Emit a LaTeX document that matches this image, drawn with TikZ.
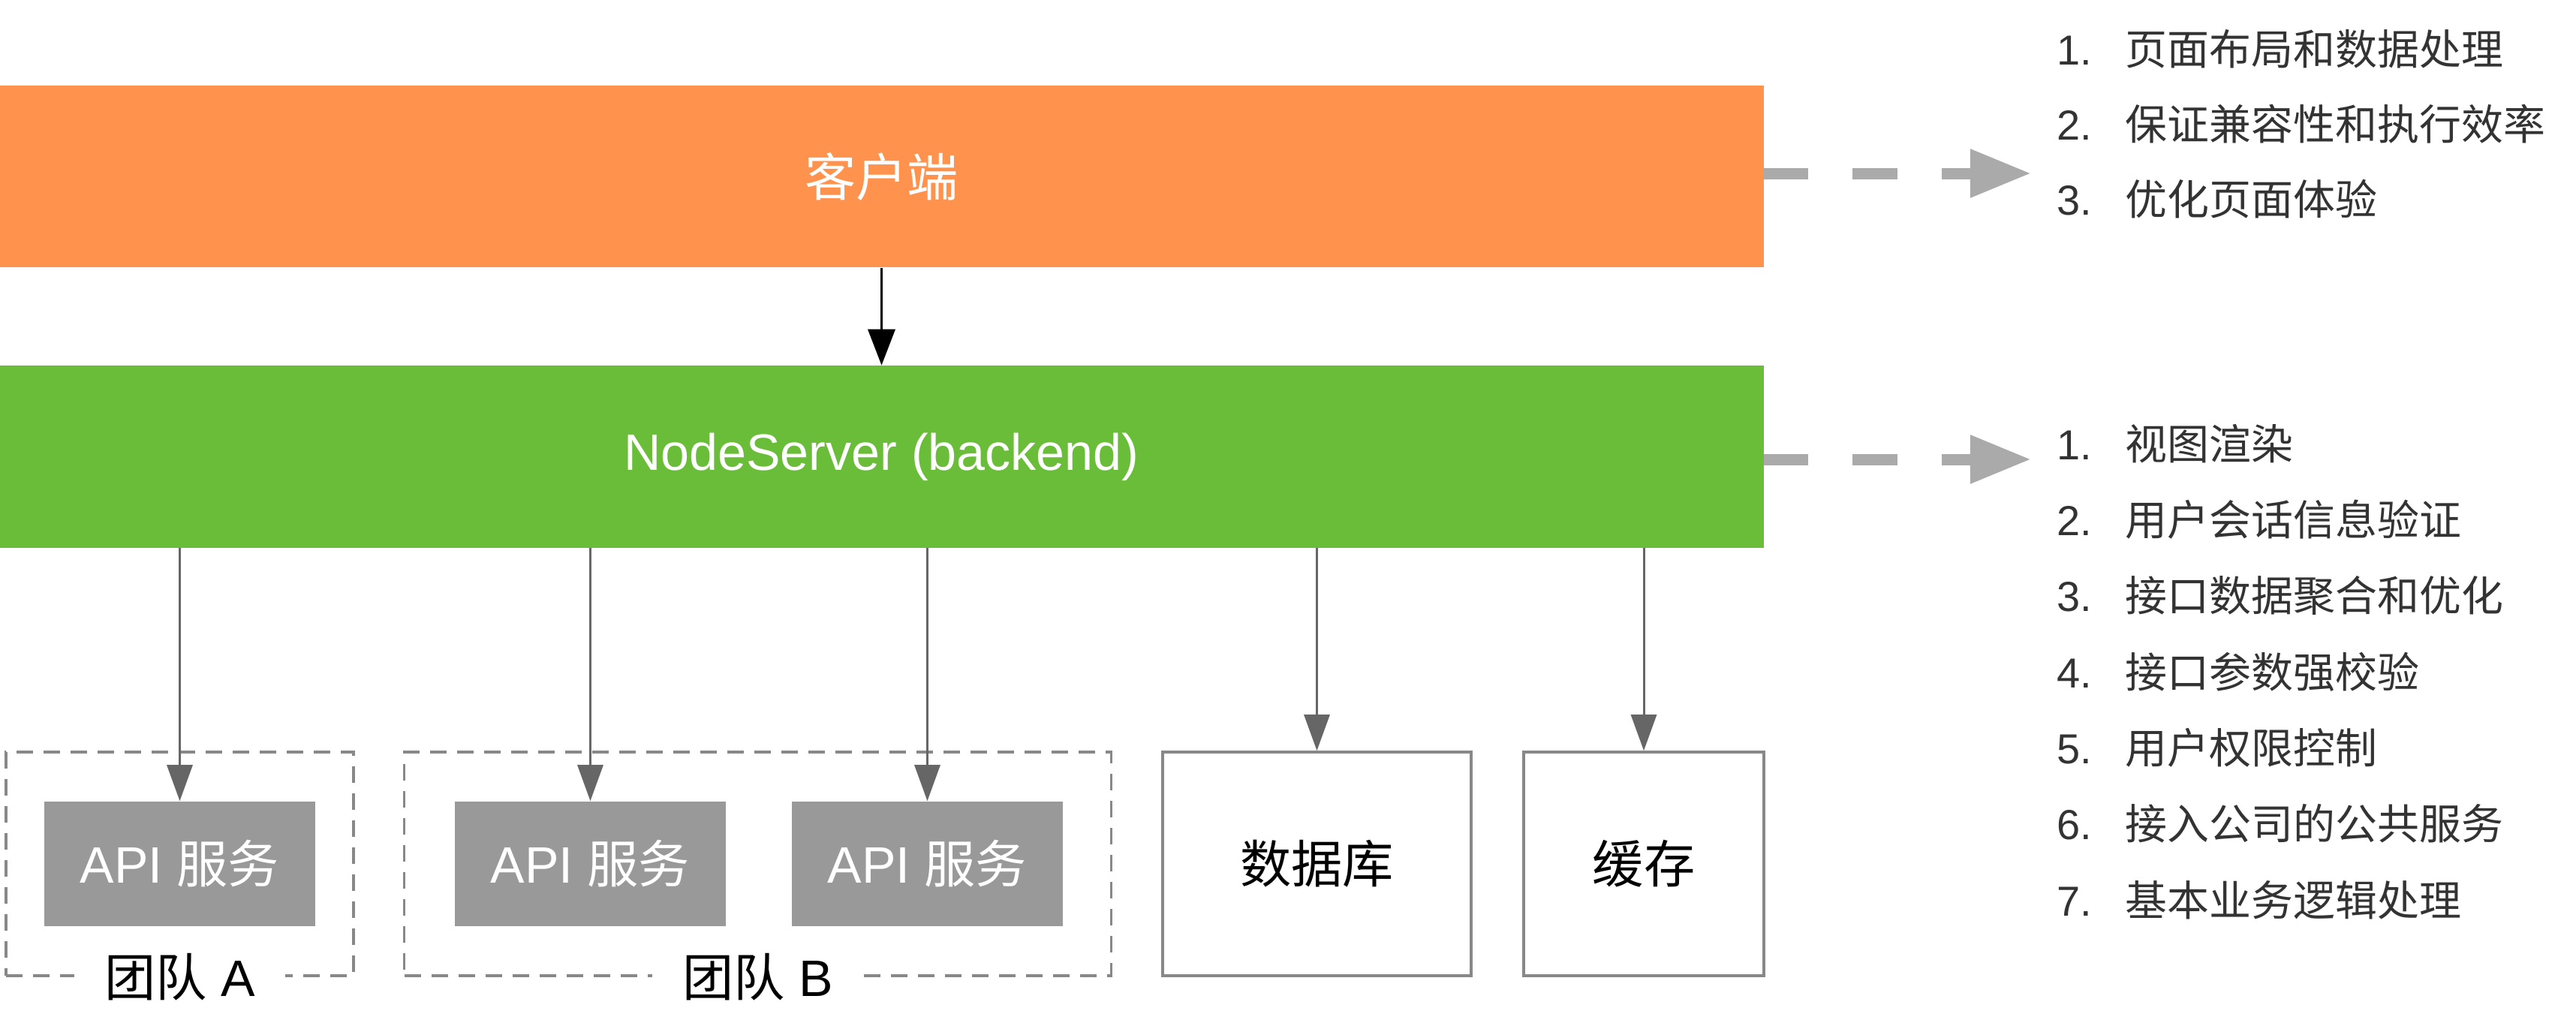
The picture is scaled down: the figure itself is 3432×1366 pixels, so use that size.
\documentclass[tikz,border=0pt]{standalone}
\usepackage{fontspec}
\setmainfont{Liberation Sans}
\newfontfamily\zh{Noto Sans CJK SC}
\usepackage{tikz}
\usetikzlibrary{arrows.meta}
\definecolor{clientorange}{RGB}{255,146,77}
\definecolor{servergreen}{RGB}{106,189,56}
\definecolor{apigray}{RGB}{153,153,153}
\definecolor{linegray}{RGB}{102,102,102}
\definecolor{boxgray}{RGB}{136,136,136}
\definecolor{dashgray}{RGB}{170,170,170}
\definecolor{listgray}{RGB}{51,51,51}

\begin{document}
\begin{tikzpicture}[x=0.01cm, y=-0.01cm,
  tier/.style={fill=#1, draw=none, minimum width=23.49cm, minimum height=2.42cm, text=white, font=\fontsize{19.4pt}{22pt}\selectfont},
  apibox/.style={fill=apigray, minimum width=3.61cm, minimum height=1.66cm, text=white, font=\fontsize{19.4pt}{22pt}\selectfont},
  storebox/.style={draw=boxgray, line width=0.035cm, minimum width=#1, minimum height=2.98cm, font=\fontsize{19.4pt}{22pt}\selectfont},
  teambox/.style={draw=boxgray, line width=0.035cm, dash pattern=on 0.22cm off 0.14cm, minimum width=#1, minimum height=2.98cm},
  teamlabel/.style={fill=white, inner xsep=0.4cm, inner ysep=0.05cm, font=\fontsize{19.4pt}{22pt}\selectfont},
  callarrow/.style={draw=linegray, line width=0.03cm, -{Triangle[length=0.48cm, width=0.34cm]}},
  dutyarrow/.style={draw=dashgray, line width=0.15cm, dash pattern=on 0.59cm off 0.59cm, -{Triangle[length=0.81cm, width=0.61cm]}},
  dutyitem/.style={anchor=west, text=listgray, inner sep=0pt, font=\fontsize{15.9pt}{18pt}\selectfont}
]
\useasboundingbox (0,0) rectangle (3432,1366);

\node[tier=clientorange] (client) at (1174.5,235) {\zh 客户端};
\node[tier=servergreen] (server) at (1174.5,608.5) {NodeServer (backend)};

\node[teambox=4.63cm] (teamA) at (239.5,1151) {};
\node[teambox=9.41cm] (teamB) at (1009.5,1151) {};
\node[apibox] (apiA) at (239.5,1151) {API {\zh 服务}};
\node[apibox] (apiB1) at (786.5,1151) {API {\zh 服务}};
\node[apibox] (apiB2) at (1235.5,1151) {API {\zh 服务}};
\node[teamlabel] (labelA) at (teamA.south) {{\zh 团队} A};
\node[teamlabel] (labelB) at (teamB.south) {{\zh 团队} B};

\node[storebox=4.11cm] (db) at (1754.5,1151) {\zh 数据库};
\node[storebox=3.20cm] (cache) at (2190,1151) {\zh 缓存};

\draw[line width=0.035cm, -{Triangle[length=0.48cm, width=0.36cm]}] (client) -- (server);
\foreach \t in {apiA, apiB1, apiB2, db, cache}
  \draw[callarrow] (server.south -| \t.north) -- (\t.north);

% duties of each tier
\coordinate (clientTip) at (2706,231);
\coordinate (serverTip) at (2706,612);
\draw[dutyarrow] (client.east |- clientTip) -- (clientTip);
\draw[dutyarrow] (server.east |- serverTip) -- (serverTip);

\foreach \i/\t in {1/页面布局和数据处理, 2/保证兼容性和执行效率, 3/优化页面体验}
  \node[dutyitem] (front\i) at (2740,{65+100*(\i-1)}) {\makebox[0.91cm][l]{\i.}{\zh\t}};
\foreach \i/\t in {1/视图渲染, 2/用户会话信息验证, 3/接口数据聚合和优化, 4/接口参数强校验, 5/用户权限控制, 6/接入公司的公共服务, 7/基本业务逻辑处理}
  \node[dutyitem] (back\i) at (2740,{591+101.3*(\i-1)}) {\makebox[0.91cm][l]{\i.}{\zh\t}};
\end{tikzpicture}
\end{document}
